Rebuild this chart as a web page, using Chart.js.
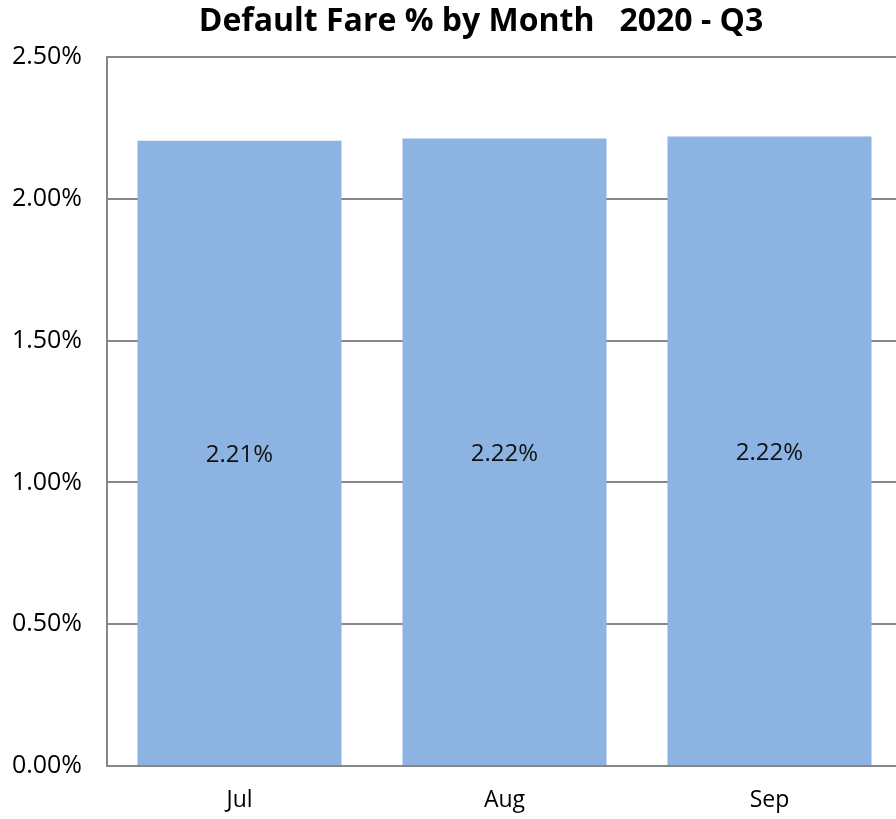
<!DOCTYPE html>
<html>
<head>
<meta charset="utf-8">
<script src="https://cdn.jsdelivr.net/npm/chart.js@4/dist/chart.umd.min.js"></script>
<style>
html,body{margin:0;padding:0;background:#fff;overflow:hidden;width:896px;height:819px;}
#wrap{position:absolute;left:0;top:0;width:962px;height:819px;}
</style>
</head>
<body>
<div id="wrap"><canvas id="c" width="962" height="819"></canvas></div>
<script>
const months = ["Jul", "Aug", "Sep"];
const defaultFarePct = [2.205, 2.213, 2.220];
const valueLabels = ["2.21%", "2.22%", "2.22%"];
const yTicks = [0, 0.5, 1.0, 1.5, 2.0, 2.5];
const chartTitle = "Default Fare % by Month   2020 - Q3";

const FONT = "'Open Sans', 'Liberation Sans', sans-serif";

const labelPlugin = {
  id: 'barLabels',
  afterDatasetsDraw(chart) {
    const ctx = chart.ctx;
    const meta = chart.getDatasetMeta(0);
    ctx.save();
    ctx.font = "24px " + FONT;
    ctx.fillStyle = "#111";
    ctx.textAlign = "center";
    ctx.textBaseline = "middle";
    meta.data.forEach((bar, i) => {
      const y = (bar.y + bar.base) / 2 + 2;
      ctx.fillText(valueLabels[i], bar.x, y);
    });
    ctx.restore();
  }
};

new Chart(document.getElementById('c'), {
  type: 'bar',
  data: {
    labels: months,
    datasets: [{
      data: defaultFarePct,
      backgroundColor: '#8DB3E2',
      borderWidth: 0,
      categoryPercentage: 1.0,
      barPercentage: 0.77
    }]
  },
  options: {
    responsive: false,
    animation: false,
    devicePixelRatio: 1,
    layout: { padding: 0 },
    plugins: {
      legend: { display: false },
      tooltip: { enabled: false },
      title: {
        display: true,
        text: chartTitle,
        color: '#000',
        font: { family: FONT, size: 32, weight: 'bold' },
        padding: { top: 3, bottom: 15.6 }
      }
    },
    scales: {
      x: {
        grid: { display: false, drawTicks: false },
        border: { display: true, color: '#868686', width: 2 },
        ticks: { color: '#000', font: { family: FONT, size: 23 }, padding: 21 },
        afterFit(s) { s.height = 53; }
      },
      y: {
        min: 0, max: 2.5,
        afterBuildTicks(s) { s.ticks = yTicks.map(v => ({ value: v })); },
        grid: { color: '#868686', lineWidth: 2, drawTicks: false },
        border: { display: true, color: '#868686', width: 2 },
        ticks: {
          color: '#000',
          font: { family: FONT, size: 25 },
          padding: 25,
          callback: v => v.toFixed(2) + '%'
        },
        afterFit(s) { s.width = 107; }
      },
      yRight: {
        position: 'right',
        min: 0, max: 2.5,
        grid: { display: false, drawTicks: false },
        border: { display: false },
        ticks: { display: false },
        afterFit(s) { s.width = 60; }
      }
    }
  },
  plugins: [labelPlugin]
});
</script>
</body>
</html>
